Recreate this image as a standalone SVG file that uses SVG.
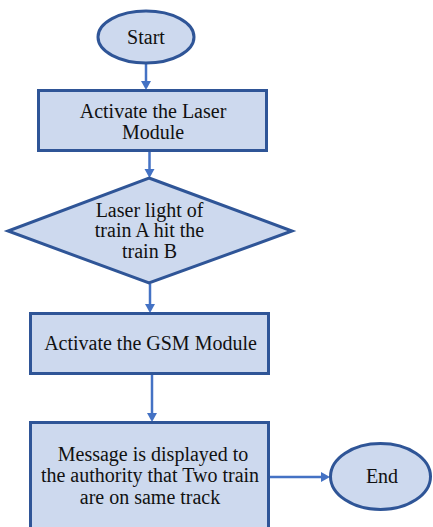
<svg xmlns="http://www.w3.org/2000/svg" width="433" height="527" viewBox="0 0 433 527">
<style>
.shape{fill:#CDD9EE;stroke:#2F5597;stroke-width:3}
.conn{stroke:#4472C4;stroke-width:2.5;fill:none}
.head{fill:#4472C4}
.lbl{font-family:"Liberation Serif","Times New Roman",serif;font-size:20px;fill:#111;text-anchor:middle}
</style>
<rect width="433" height="527" fill="#fff"/>
<g id="connectors">
<line class="conn" x1="146" y1="63" x2="146" y2="82"/>
<line class="conn" x1="149.5" y1="151" x2="149.5" y2="170"/>
<line class="conn" x1="150" y1="284" x2="150" y2="305"/>
<line class="conn" x1="152" y1="375" x2="152" y2="414"/>
<line class="conn" x1="270" y1="477" x2="322" y2="477"/>
<path class="head" d="M141,81 L151,81 L146,90 z"/>
<path class="head" d="M144.5,169 L154.5,169 L149.5,178 z"/>
<path class="head" d="M145,304 L155,304 L150,313 z"/>
<path class="head" d="M147,413 L157,413 L152,422 z"/>
<path class="head" d="M321,472 L321,482 L330,477 z"/>
</g>
<g id="start">
<ellipse class="shape" cx="146" cy="37" rx="48" ry="26"/>
<text class="lbl" x="146" y="43.5">Start</text>
</g>
<g id="laser">
<rect class="shape" x="38.5" y="90.5" width="228" height="60"/>
<text class="lbl" x="153" y="117.5">Activate the Laser</text>
<text class="lbl" x="153" y="139">Module</text>
</g>
<g id="decision">
<polygon class="shape" points="149,178 292,231 149,283 8,231"/>
<text class="lbl" x="149.5" y="216.5">Laser light of</text>
<text class="lbl" x="149.5" y="236.5">train A hit the</text>
<text class="lbl" x="149.5" y="258">train B</text>
</g>
<g id="gsm">
<rect class="shape" x="30.5" y="313.5" width="238" height="60"/>
<text class="lbl" x="150.5" y="350">Activate the GSM Module</text>
</g>
<g id="message">
<rect class="shape" x="30.5" y="422.5" width="238" height="110"/>
<text class="lbl" x="153" y="460.5">Message is displayed to</text>
<text class="lbl" x="150" y="482">the authority that Two train</text>
<text class="lbl" x="150" y="504">are on same track</text>
</g>
<g id="end">
<ellipse class="shape" cx="380.5" cy="476.5" rx="50" ry="33"/>
<text class="lbl" x="382" y="483">End</text>
</g>
</svg>
